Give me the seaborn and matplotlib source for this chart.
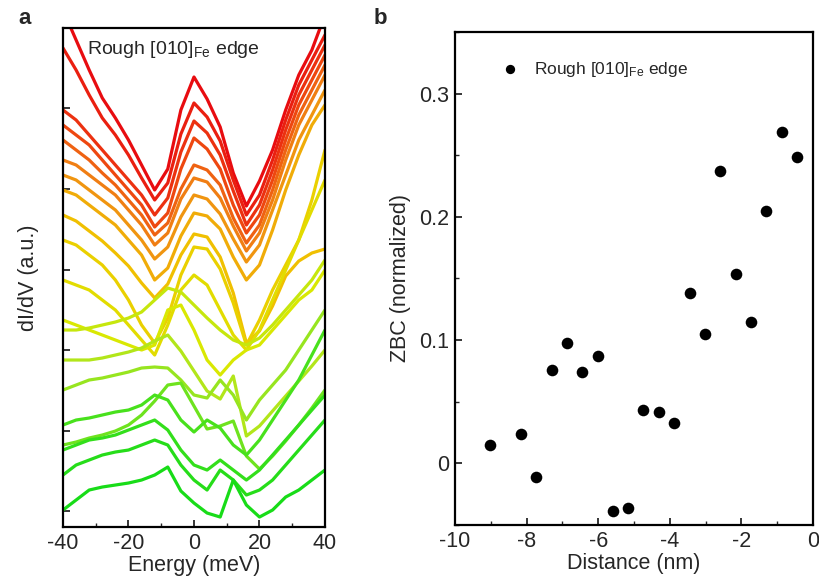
import numpy as np
import pandas as pd
import matplotlib
matplotlib.use("Agg")
import matplotlib.pyplot as plt
from matplotlib.colors import LinearSegmentedColormap
from matplotlib.ticker import MultipleLocator
import seaborn as sns

sns.set_style("white")
plt.rcParams['font.family'] = ['Liberation Sans', 'DejaVu Sans']
plt.rcParams['mathtext.fontset'] = 'custom'
plt.rcParams['mathtext.rm'] = 'Liberation Sans'
plt.rcParams['mathtext.it'] = 'Liberation Sans:italic'
plt.rcParams['axes.unicode_minus'] = False

# ---------------- panel a data: dI/dV spectra (a.u., stacked) ----------------
energy = [-40, -36, -32, -28, -24, -20, -16, -12, -8, -4, 0, 4, 8, 12, 16, 20, 24, 28, 32, 36, 40]

c00 = [501, 471, 441, 413, 393, 371, 346, 321, 342, 401, 434, 412, 384, 338, 305, 330, 361, 401, 436, 461, 496]
c01 = [463, 441, 416, 393, 376, 356, 333, 311, 328, 377, 408, 394, 370, 331, 296, 316, 351, 391, 426, 451, 476]
c02 = [401, 391, 376, 361, 346, 331, 316, 296, 313, 359, 390, 378, 356, 320, 286, 306, 341, 381, 416, 441, 466]
c03 = [386, 376, 366, 351, 336, 321, 306, 284, 298, 342, 373, 362, 342, 306, 278, 296, 331, 371, 406, 431, 456]
c04 = [371, 361, 351, 338, 326, 311, 296, 276, 288, 322, 346, 341, 326, 293, 268, 286, 321, 361, 396, 421, 446]
c05 = [351, 346, 336, 326, 316, 301, 286, 266, 278, 312, 333, 329, 313, 285, 260, 278, 311, 351, 386, 411, 436]
c06 = [336, 331, 321, 311, 301, 286, 271, 252, 264, 294, 316, 312, 297, 272, 249, 266, 301, 336, 371, 396, 421]
c07 = [321, 316, 306, 296, 286, 271, 256, 231, 243, 275, 298, 295, 282, 254, 231, 246, 281, 321, 356, 386, 406]
c08 = [296, 290, 280, 270, 258, 245, 228, 213, 227, 256, 277, 274, 254, 218, 168, 180, 205, 235, 250, 258, 262]
c09 = [271, 266, 256, 246, 231, 211, 186, 168, 193, 236, 264, 262, 242, 208, 166, 191, 221, 246, 271, 311, 361]
c10 = [231, 226, 221, 211, 201, 186, 171, 156, 186, 221, 236, 226, 201, 176, 161, 181, 211, 241, 271, 301, 331]
c11 = [191, 186, 181, 176, 171, 166, 161, 166, 201, 206, 181, 151, 136, 151, 161, 166, 181, 196, 211, 221, 241]
c12 = [181, 181, 183, 186, 189, 193, 199, 211, 223, 219, 206, 193, 181, 171, 166, 173, 186, 201, 216, 231, 251]
c13 = [151, 151, 151, 153, 156, 159, 163, 170, 176, 160, 140, 120, 112, 135, 75, 85, 100, 115, 130, 145, 161]
c14 = [121, 126, 131, 133, 136, 139, 143, 144, 143, 131, 116, 113, 131, 116, 91, 111, 126, 141, 161, 181, 201]
c15 = [66, 69, 73, 76, 80, 86, 96, 110, 126, 128, 105, 82, 85, 90, 55, 42, 55, 70, 86, 103, 121]
c16 = [86, 91, 93, 96, 99, 101, 106, 116, 111, 91, 79, 91, 83, 66, 56, 71, 91, 111, 131, 156, 181]
c17 = [61, 66, 71, 73, 76, 81, 86, 91, 81, 61, 46, 41, 51, 41, 31, 41, 56, 71, 86, 101, 116]
c18 = [36, 46, 51, 56, 59, 61, 66, 71, 66, 46, 31, 21, 41, 31, 16, 21, 31, 46, 61, 76, 91]
c19 = [1, 11, 21, 24, 26, 28, 31, 36, 44, 20, 8, -2, -6, 31, 6, -6, 1, 14, 21, 31, 41]

spectra = [c00, c01, c02, c03, c04, c05, c06, c07, c08, c09,
           c10, c11, c12, c13, c14, c15, c16, c17, c18, c19]

# ---------------- panel b data: zero-bias conductance ----------------
distance = [-9.02, -8.16, -7.73, -7.30, -6.87, -6.44, -6.01, -5.58, -5.16, -4.74,
            -4.29, -3.87, -3.44, -3.01, -2.60, -2.16, -1.73, -1.31, -0.87, -0.44]
zbc = [0.015, 0.024, -0.011, 0.076, 0.098, 0.0745, 0.0875, -0.039, -0.036, 0.0434,
       0.042, 0.033, 0.138, 0.105, 0.237, 0.154, 0.115, 0.205, 0.269, 0.2485]

# ---------------- figure ----------------
fig = plt.figure(figsize=(8.19, 5.83), dpi=100)
axa = fig.add_axes([0.0769, 0.096, 0.3199, 0.856])
axb = fig.add_axes([0.5556, 0.0995, 0.4371, 0.8456])

cmap = LinearSegmentedColormap.from_list(
    "rg", ["#e80c10", "#ee4010", "#f08a14", "#f0c400", "#dce800", "#a8e620", "#3ee01c", "#18dc18"])
palette = [cmap(i / (len(spectra) - 1)) for i in range(len(spectra))]

rows = []
for k, s in enumerate(spectra):
    for e, v in zip(energy, s):
        rows.append((k, e, v))
df = pd.DataFrame(rows, columns=["curve", "energy", "didv"])

sns.lineplot(data=df, x="energy", y="didv", hue="curve", palette=palette,
             linewidth=2.3, legend=False, ax=axa, sort=False)

axa.set_xlim(-40, 40)
axa.set_ylim(-16, 483)
axa.set_xticks([-40, -20, 0, 20, 40])
axa.xaxis.set_minor_locator(MultipleLocator(10))
axa.set_yticks([0, 80.5, 161, 241.5, 322, 402.5])
axa.set_yticklabels([])
axa.set_xlabel("Energy (meV)", fontsize=15.5, labelpad=1)
axa.set_ylabel("dI/dV (a.u.)", fontsize=15.5, labelpad=14)
axa.tick_params(axis='x', which='major', direction='in', length=5, width=1.3,
                labelsize=15.5, bottom=True, top=False, pad=4)
axa.tick_params(axis='x', which='minor', direction='in', length=3, width=1.0,
                bottom=True, top=False)
axa.tick_params(axis='y', which='major', direction='in', length=5, width=1.3,
                left=True, right=False)
for sp in axa.spines.values():
    sp.set_linewidth(1.6)
    sp.set_color('black')
axa.text(0.092, 0.956, r"Rough [010]$_{\mathrm{Fe}}$ edge", transform=axa.transAxes,
         fontsize=14, va='center', ha='left')

sns.scatterplot(x=distance, y=zbc, color='black', s=70, edgecolor='black',
                linewidth=0, ax=axb, label=r"Rough [010]$_{\mathrm{Fe}}$ edge")
axb.set_xlim(-10, 0)
axb.set_ylim(-0.05, 0.35)
axb.set_xticks([-10, -8, -6, -4, -2, 0])
axb.set_xticklabels(["-10", "-8", "-6", "-4", "-2", "0"])
axb.set_yticks([0, 0.1, 0.2, 0.3])
axb.set_yticklabels(["0", "0.1", "0.2", "0.3"])
axb.xaxis.set_minor_locator(MultipleLocator(1))
axb.yaxis.set_minor_locator(MultipleLocator(0.05))
axb.tick_params(which='major', direction='in', length=5, width=1.3, labelsize=15.5,
                bottom=True, left=True, top=False, right=False, pad=4)
axb.tick_params(which='minor', direction='in', length=3, width=1.0,
                bottom=True, left=True, top=False, right=False)
axb.set_xlabel("Distance (nm)", fontsize=15.5, labelpad=1)
axb.set_ylabel("ZBC (normalized)", fontsize=15.5, labelpad=6)
for sp in axb.spines.values():
    sp.set_linewidth(1.6)
    sp.set_color('black')
axb.legend(loc='upper left', bbox_to_anchor=(0.06, 0.975), frameon=False,
           fontsize=12.5, handletextpad=0.4, markerscale=0.8)

fig.text(0.022, 0.968, "a", fontsize=16, fontweight='bold', va='center', ha='left')
fig.text(0.456, 0.968, "b", fontsize=16, fontweight='bold', va='center', ha='left')

fig.savefig("out.png", dpi=100)
